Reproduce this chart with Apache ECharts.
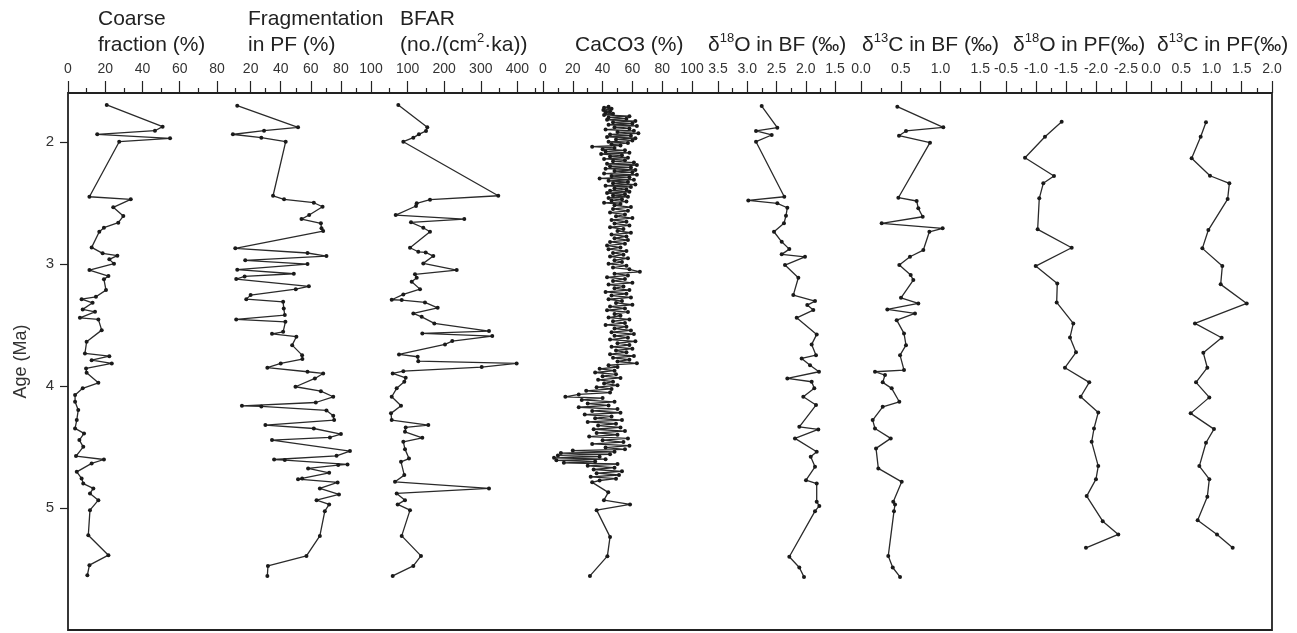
<!DOCTYPE html>
<html>
<head>
<meta charset="utf-8">
<script src="https://cdn.jsdelivr.net/npm/echarts@6/dist/echarts.min.js"></script>
<style>
  html, body { margin: 0; padding: 0; background: #fff; }
  #chart { width: 1297px; height: 633px; }
</style>
</head>
<body>
<div id="chart"></div>
<script>
// shared age axis (Ma), drawn downwards
const ageMin = 1.6, ageMax = 6.0;
const ageTicks = [2, 3, 4, 5];

// panel headers (rich text: s = superscript)
const headers = [
  'Coarse\nfraction (%)',
  'Fragmentation\nin PF (%)',
  'BFAR\n(no./(cm{s|2}·ka))',
  'CaCO3 (%)',
  'δ{s|18}O in BF (‰)',
  'δ{s|13}C in BF (‰)',
  'δ{s|18}O in PF(‰)',
  'δ{s|13}C in PF(‰)'
];

// data as [value, age]
const coarse = [[20.8,1.698],[50.8,1.876],[46.7,1.909],[15.7,1.939],[54.8,1.971],[27.5,1.999],[11.5,2.45],[33.7,2.471],
  [24.3,2.537],[29.7,2.608],[27.0,2.663],[19.3,2.704],[16.8,2.737],[12.7,2.865],[18.6,2.914],[26.5,2.933],[22.2,2.963],
  [24.7,2.999],[11.5,3.051],[21.7,3.10],[19.3,3.127],[20.4,3.215],[15.0,3.27],[7.3,3.289],[13.2,3.319],[7.9,3.373],
  [14.5,3.393],[6.4,3.442],[16.3,3.455],[18.1,3.543],[10.0,3.638],[9.1,3.734],[22.2,3.756],[12.7,3.789],[23.5,3.816],
  [9.7,3.857],[10.0,3.893],[16.3,3.975],[7.9,4.02],[3.8,4.075],[3.8,4.13],[5.5,4.198],[4.7,4.28],[3.8,4.348],[8.6,4.389],
  [6.1,4.444],[8.2,4.499],[4.3,4.575],[19.3,4.603],[12.7,4.635],[4.7,4.704],[7.3,4.758],[8.2,4.80],[13.6,4.84],
  [11.8,4.881],[16.3,4.936],[11.8,5.018],[10.9,5.223],[21.7,5.387],[11.5,5.469],[10.4,5.551]];

const frag = [[11.1,1.704],[51.5,1.881],[28.9,1.909],[8.2,1.939],[27.1,1.966],[43.3,1.999],[34.9,2.442],[42.2,2.471],
  [62,2.499],[67.8,2.532],[58.9,2.60],[53.8,2.633],[66.7,2.668],[67.1,2.709],[68.2,2.731],[9.8,2.873],[57.8,2.911],
  [70.4,2.936],[16.4,2.971],[57.8,3.002],[11.1,3.048],[48.7,3.081],[16,3.103],[10.4,3.125],[58.7,3.184],[50,3.207],
  [20,3.256],[17.1,3.289],[41.6,3.311],[42,3.365],[42.7,3.42],[10.4,3.455],[43.1,3.475],[41.6,3.557],[34.2,3.573],
  [50.4,3.597],[47.6,3.666],[54.2,3.748],[54.4,3.78],[40,3.816],[31.1,3.851],[57.8,3.884],[68.2,3.898],[62.7,3.939],
  [49.8,4.007],[66.7,4.043],[74.9,4.089],[63.3,4.136],[14.2,4.163],[27.1,4.168],[70.4,4.201],[74.9,4.245],[75.5,4.28],
  [29.8,4.321],[62,4.349],[80,4.395],[72.7,4.422],[34.2,4.444],[86,4.534],[77.1,4.573],[35.6,4.603],[42.7,4.608],
  [84.4,4.643],[78.2,4.649],[58.2,4.676],[72.2,4.712],[54.2,4.758],[51.5,4.764],[77.8,4.791],[66,4.84],[78.7,4.889],
  [63.8,4.936],[72.2,4.971],[69.3,5.026],[66,5.229],[57.1,5.393],[31.5,5.475],[31.1,5.557]];

const bfar = [[74.6,1.698],[153.8,1.881],[150.3,1.911],[131,1.939],[115.6,1.966],[88.3,1.999],[347.8,2.442],[161.2,2.474],
  [124.9,2.504],[123,2.526],[67.5,2.60],[254.9,2.633],[109.3,2.66],[142.9,2.704],[161.2,2.737],[106.6,2.868],
  [129.2,2.901],[149.5,2.906],[170.2,2.936],[142.9,2.996],[234.2,3.051],[120.2,3.086],[124.9,3.113],[111.2,3.147],
  [133.9,3.207],[88.3,3.25],[56.6,3.294],[83.9,3.297],[147.5,3.316],[182.2,3.36],[115.6,3.406],[138.5,3.434],
  [173,3.488],[322.4,3.551],[140.2,3.57],[331.4,3.592],[222.1,3.633],[202.2,3.66],[76.5,3.742],[127.6,3.761],
  [129.2,3.797],[398,3.816],[302.5,3.846],[88.3,3.879],[59.3,3.898],[94.8,3.934],[91,3.966],[70.2,4.02],[56.6,4.089],
  [82,4.163],[54.6,4.225],[56.6,4.28],[156.6,4.321],[94.8,4.34],[92.9,4.376],[140.2,4.425],[88.3,4.458],[92.9,4.518],
  [103.8,4.595],[82,4.622],[91,4.731],[65.6,4.786],[322.4,4.84],[70.2,4.881],[92.9,4.936],[72.9,4.971],[106.6,5.018],
  [83.9,5.229],[136.6,5.393],[115.6,5.475],[59.3,5.557]];

const caco3 = [[44,1.712],[41,1.72],[46,1.73],[40.5,1.74],[45,1.75],[42,1.76],[47,1.77],[41,1.78],[58,1.79],[44,1.80],
  [56,1.81],[43,1.82],[62,1.83],[47,1.84],[60,1.85],[44,1.86],[63,1.87],[48,1.88],[58,1.89],[42,1.90],[61,1.91],
  [50,1.92],[64,1.93],[45,1.94],[59,1.95],[43,1.96],[62,1.97],[49,1.98],[60,1.99],[44,2.00],[57,2.01],[46,2.02],
  [52,2.03],[33,2.04],[48,2.05],[40,2.06],[55,2.07],[42,2.08],[58,2.09],[39,2.10],[53,2.11],[45,2.12],[57,2.13],
  [41,2.14],[55,2.15],[47,2.16],[61,2.17],[43,2.18],[63,2.19],[45,2.20],[59,2.21],[42,2.22],[62,2.23],[48,2.24],
  [60,2.25],[41,2.26],[63,2.27],[46,2.28],[58,2.29],[38,2.30],[61,2.31],[44,2.32],[57,2.33],[47,2.34],[62,2.35],
  [42,2.36],[59,2.37],[48,2.38],[56,2.39],[45,2.40],[58,2.41],[43,2.42],[55,2.43],[47,2.44],[57,2.45],[44,2.46],
  [53,2.47],[46,2.48],[56,2.49],[41,2.50],[52,2.51],[48,2.52],[59,2.535],[47,2.55],[57,2.565],[45,2.58],[55,2.595],
  [49,2.61],[60,2.625],[46,2.64],[56,2.655],[48,2.67],[58,2.685],[45,2.70],[54,2.715],[50,2.73],[59,2.745],[46,2.76],
  [56,2.775],[48,2.79],[57,2.805],[45,2.82],[55,2.835],[43,2.85],[52,2.865],[44,2.88],[56,2.895],[47,2.91],[54,2.925],
  [45,2.94],[57,2.955],[48,2.97],[53,2.985],[44,3.00],[56,3.015],[47,3.03],[58,3.045],[65,3.065],[48,3.08],[57,3.095],
  [43,3.11],[55,3.125],[47,3.14],[60,3.155],[44,3.17],[54,3.185],[48,3.20],[58,3.215],[42,3.23],[56,3.245],[46,3.26],
  [59,3.275],[44,3.29],[53,3.305],[49,3.32],[60,3.335],[45,3.35],[55,3.365],[43,3.38],[57,3.395],[48,3.41],[52,3.425],
  [44,3.44],[58,3.455],[47,3.47],[55,3.485],[42,3.50],[56,3.515],[48,3.53],[59,3.545],[46,3.56],[61,3.575],[48,3.59],
  [57,3.605],[45,3.62],[62,3.635],[50,3.65],[58,3.665],[46,3.68],[60,3.695],[49,3.71],[56,3.725],[45,3.74],[61,3.755],
  [47,3.77],[58,3.785],[50,3.80],[63,3.815],[44,3.83],[50,3.845],[38,3.86],[48,3.875],[35,3.89],[49,3.905],[40,3.92],
  [52,3.935],[37,3.95],[47,3.965],[41,3.98],[50,3.995],[36,4.01],[46,4.025],[29,4.04],[45,4.055],[24,4.07],[15,4.089],
  [40,4.10],[26,4.115],[48,4.13],[30,4.145],[44,4.16],[24,4.175],[50,4.19],[33,4.205],[52,4.22],[28,4.235],[46,4.25],
  [35,4.265],[53,4.28],[30,4.295],[49,4.31],[37,4.325],[52,4.34],[34,4.355],[55,4.37],[36,4.385],[50,4.40],[31,4.415],
  [57,4.43],[40,4.445],[54,4.46],[33,4.475],[58,4.49],[42,4.505],[55,4.52],[20,4.53],[48,4.54],[12,4.55],[45,4.56],
  [10,4.57],[38,4.58],[7.4,4.589],[42,4.60],[9,4.61],[35,4.62],[14,4.63],[50,4.64],[30,4.655],[48,4.67],[34,4.685],
  [53,4.70],[36,4.715],[51,4.73],[32,4.745],[49,4.76],[38,4.775],[33,4.79],[43.8,4.872],[40.9,4.936],[58.4,4.971],
  [36,5.018],[45,5.237],[43.2,5.395],[31.5,5.557]];

const o18bf = [[2.753,1.707],[2.486,1.884],[2.85,1.911],[2.582,1.944],[2.85,1.999],[2.367,2.45],[2.982,2.48],[2.486,2.504],
  [2.315,2.54],[2.338,2.606],[2.372,2.668],[2.543,2.737],[2.411,2.819],[2.281,2.879],[2.411,2.922],[2.013,2.942],
  [2.355,3.01],[2.127,3.114],[2.213,3.256],[1.842,3.305],[1.974,3.338],[1.871,3.379],[2.155,3.442],[1.813,3.578],
  [1.899,3.66],[1.825,3.748],[2.07,3.775],[1.927,3.83],[1.774,3.884],[2.315,3.939],[1.899,3.966],[1.854,4.02],
  [2.042,4.089],[1.825,4.157],[2.11,4.335],[1.786,4.357],[2.184,4.43],[1.813,4.54],[1.915,4.581],[1.842,4.663],
  [1.996,4.772],[1.813,4.80],[1.813,4.95],[1.768,4.983],[1.842,5.026],[2.281,5.40],[2.11,5.488],[2.03,5.565]];

const c13bf = [[0.457,1.712],[1.035,1.881],[0.566,1.911],[0.478,1.95],[0.868,2.007],[0.47,2.458],[0.70,2.485],[0.721,2.545],
  [0.776,2.614],[0.26,2.668],[1.027,2.709],[0.86,2.737],[0.784,2.887],[0.616,2.942],[0.482,3.01],[0.625,3.092],
  [0.658,3.133],[0.503,3.278],[0.721,3.324],[0.331,3.373],[0.679,3.406],[0.449,3.461],[0.541,3.57],[0.566,3.666],
  [0.491,3.748],[0.541,3.87],[0.176,3.884],[0.302,3.911],[0.273,3.971],[0.386,4.02],[0.482,4.13],[0.273,4.171],
  [0.147,4.28],[0.176,4.349],[0.374,4.43],[0.189,4.512],[0.218,4.676],[0.512,4.786],[0.406,4.95],[0.428,4.971],
  [0.415,5.026],[0.343,5.393],[0.399,5.488],[0.491,5.565]];

const o18pf = [[-1.428,1.835],[-1.15,1.958],[-0.817,2.13],[-1.30,2.28],[-1.122,2.34],[-1.055,2.463],[-1.028,2.717],
  [-1.595,2.868],[-0.995,3.018],[-1.355,3.16],[-1.345,3.316],[-1.622,3.488],[-1.567,3.603],[-1.667,3.725],
  [-1.483,3.851],[-1.888,3.971],[-1.745,4.089],[-2.038,4.217],[-1.967,4.349],[-1.928,4.458],[-2.038,4.657],
  [-2.0,4.764],[-1.845,4.903],[-2.112,5.108],[-2.372,5.217],[-1.833,5.327]];

const c13pf = [[0.909,1.84],[0.821,1.958],[0.672,2.135],[0.975,2.278],[1.295,2.34],[1.267,2.469],[0.948,2.723],
  [0.849,2.873],[1.179,3.018],[1.152,3.168],[1.582,3.324],[0.727,3.488],[1.168,3.605],[0.865,3.729],[0.931,3.851],
  [0.744,3.971],[0.964,4.094],[0.656,4.225],[1.041,4.354],[0.909,4.466],[0.799,4.657],[0.964,4.764],[0.931,4.909],
  [0.771,5.10],[1.091,5.217],[1.35,5.327]];

// top axis ticks (labelled) and the small ticks between them
const coarseTicks = [0, 20, 40, 60, 80],            coarseMinor = [10, 30, 50, 70, 90];
const fragTicks = [20, 40, 60, 80, 100],            fragMinor = [30, 50, 70, 90];
const bfarTicks = [100, 200, 300, 400],             bfarMinor = [50, 150, 250, 350, 450];
const caco3Ticks = [0, 20, 40, 60, 80, 100],        caco3Minor = [10, 30, 50, 70, 90];
const o18bfTicks = [3.5, 3.0, 2.5, 2.0, 1.5],       o18bfMinor = [3.25, 2.75, 2.25, 1.75];
const c13bfTicks = [0, 0.5, 1.0, 1.5],              c13bfMinor = [0.25, 0.75, 1.25];
const o18pfTicks = [-0.5, -1.0, -1.5, -2.0, -2.5],  o18pfMinor = [-0.75, -1.25, -1.75, -2.25];
const c13pfTicks = [0, 0.5, 1.0, 1.5, 2.0],         c13pfMinor = [0.25, 0.75, 1.25, 1.75];

const FONT = '"Liberation Sans", Arial, Helvetica, sans-serif';
const INK = '#222';
const TOP = 93, H = 537;

// panel layout: pixel strip + axis range for each column
const panels = [
  { data: coarse, ticks: coarseTicks, minor: coarseMinor, min: 0, max: 90, left: 68, width: 167.6, dec: 0 },
  { data: frag, ticks: fragTicks, minor: fragMinor, min: 10, max: 100, left: 235.6, width: 135.4, dec: 0 },
  { data: bfar, ticks: bfarTicks, minor: bfarMinor, min: 0, max: 470, left: 371, width: 172, dec: 0 },
  { data: caco3, ticks: caco3Ticks, minor: caco3Minor, min: 0, max: 100, left: 543, width: 149, dec: 0 },
  { data: o18bf, ticks: o18bfTicks, minor: o18bfMinor, min: 1.056, max: 3.944, inverse: true, left: 692, width: 169, dec: 1 },
  { data: c13bf, ticks: c13bfTicks, minor: c13bfMinor, min: 0, max: 1.6855, left: 861, width: 134, dec: 1 },
  { data: o18pf, ticks: o18pfTicks, minor: o18pfMinor, min: -2.817, max: -0.317, inverse: true, left: 995, width: 150, dec: 1 },
  { data: c13pf, ticks: c13pfTicks, minor: c13pfMinor, min: -0.099, max: 2.0, left: 1145, width: 127, dec: 1 }
];
const headerPos = [[98, 6], [248, 6], [400, 6], [575, 32], [708, 32], [862, 32], [1013, 32], [1157, 32]];

// frame grid carries the age axis and the box
const grid = [{ left: 68, top: TOP, width: 1204, height: H, show: true, borderColor: INK, borderWidth: 1.8,
  backgroundColor: 'transparent', outerBoundsMode: 'none' }];
const xAxis = [{ gridIndex: 0, type: 'value', min: 0, max: 1, show: false }];
const yAxis = [{
  gridIndex: 0, type: 'value', min: ageMin, max: ageMax, inverse: true,
  axisLine: { show: false, onZero: false }, splitLine: { show: false },
  axisTick: { show: true, customValues: ageTicks, length: 8, lineStyle: { color: INK, width: 1.2 } },
  axisLabel: { customValues: ageTicks, fontSize: 15, color: '#333', margin: 14, fontFamily: FONT },
  name: 'Age (Ma)', nameLocation: 'middle', nameGap: 38,
  nameTextStyle: { fontSize: 18, color: '#333', fontFamily: FONT }
}];
const series = [];

panels.forEach((p, i) => {
  const g = i + 1;
  grid.push({ left: p.left, width: p.width, top: TOP, height: H, outerBoundsMode: 'none' });
  const base = { gridIndex: g, type: 'value', position: 'top', min: p.min, max: p.max, inverse: !!p.inverse,
    axisLine: { show: false, onZero: false }, splitLine: { show: false } };
  // labelled long ticks
  xAxis.push(Object.assign({}, base, {
    axisTick: { show: true, inside: false, length: 12, customValues: p.ticks, lineStyle: { color: INK, width: 1.2 } },
    axisLabel: { customValues: p.ticks, fontSize: 14, color: '#333', margin: 17, fontFamily: FONT,
      formatter: v => v.toFixed(p.dec) }
  }));
  const mainX = xAxis.length - 1;
  // short in-between ticks
  xAxis.push(Object.assign({}, base, {
    axisTick: { show: true, inside: false, length: 5, customValues: p.minor, lineStyle: { color: INK, width: 1.2 } },
    axisLabel: { show: false }
  }));
  yAxis.push({ gridIndex: g, type: 'value', min: ageMin, max: ageMax, inverse: true, show: false });
  series.push({
    type: 'line', xAxisIndex: mainX, yAxisIndex: g, data: p.data, clip: false,
    symbol: 'circle', symbolSize: 4, showSymbol: true,
    lineStyle: { color: '#2a2a2a', width: 1.3 }, itemStyle: { color: '#1a1a1a' },
    emphasis: { disabled: true }
  });
});

const title = headers.map((t, i) => ({
  text: t, left: headerPos[i][0], top: headerPos[i][1], padding: 0,
  textStyle: { fontSize: 21, fontWeight: 'normal', color: '#222', fontFamily: FONT, lineHeight: 26,
    rich: { s: { fontSize: 13, lineHeight: 16, verticalAlign: 'top', fontFamily: FONT, color: '#222' } } }
}));

const chart = echarts.init(document.getElementById('chart'));
chart.setOption({
  backgroundColor: '#fff',
  animation: false,
  title: title,
  grid: grid,
  xAxis: xAxis,
  yAxis: yAxis,
  series: series
});
</script>
</body>
</html>
